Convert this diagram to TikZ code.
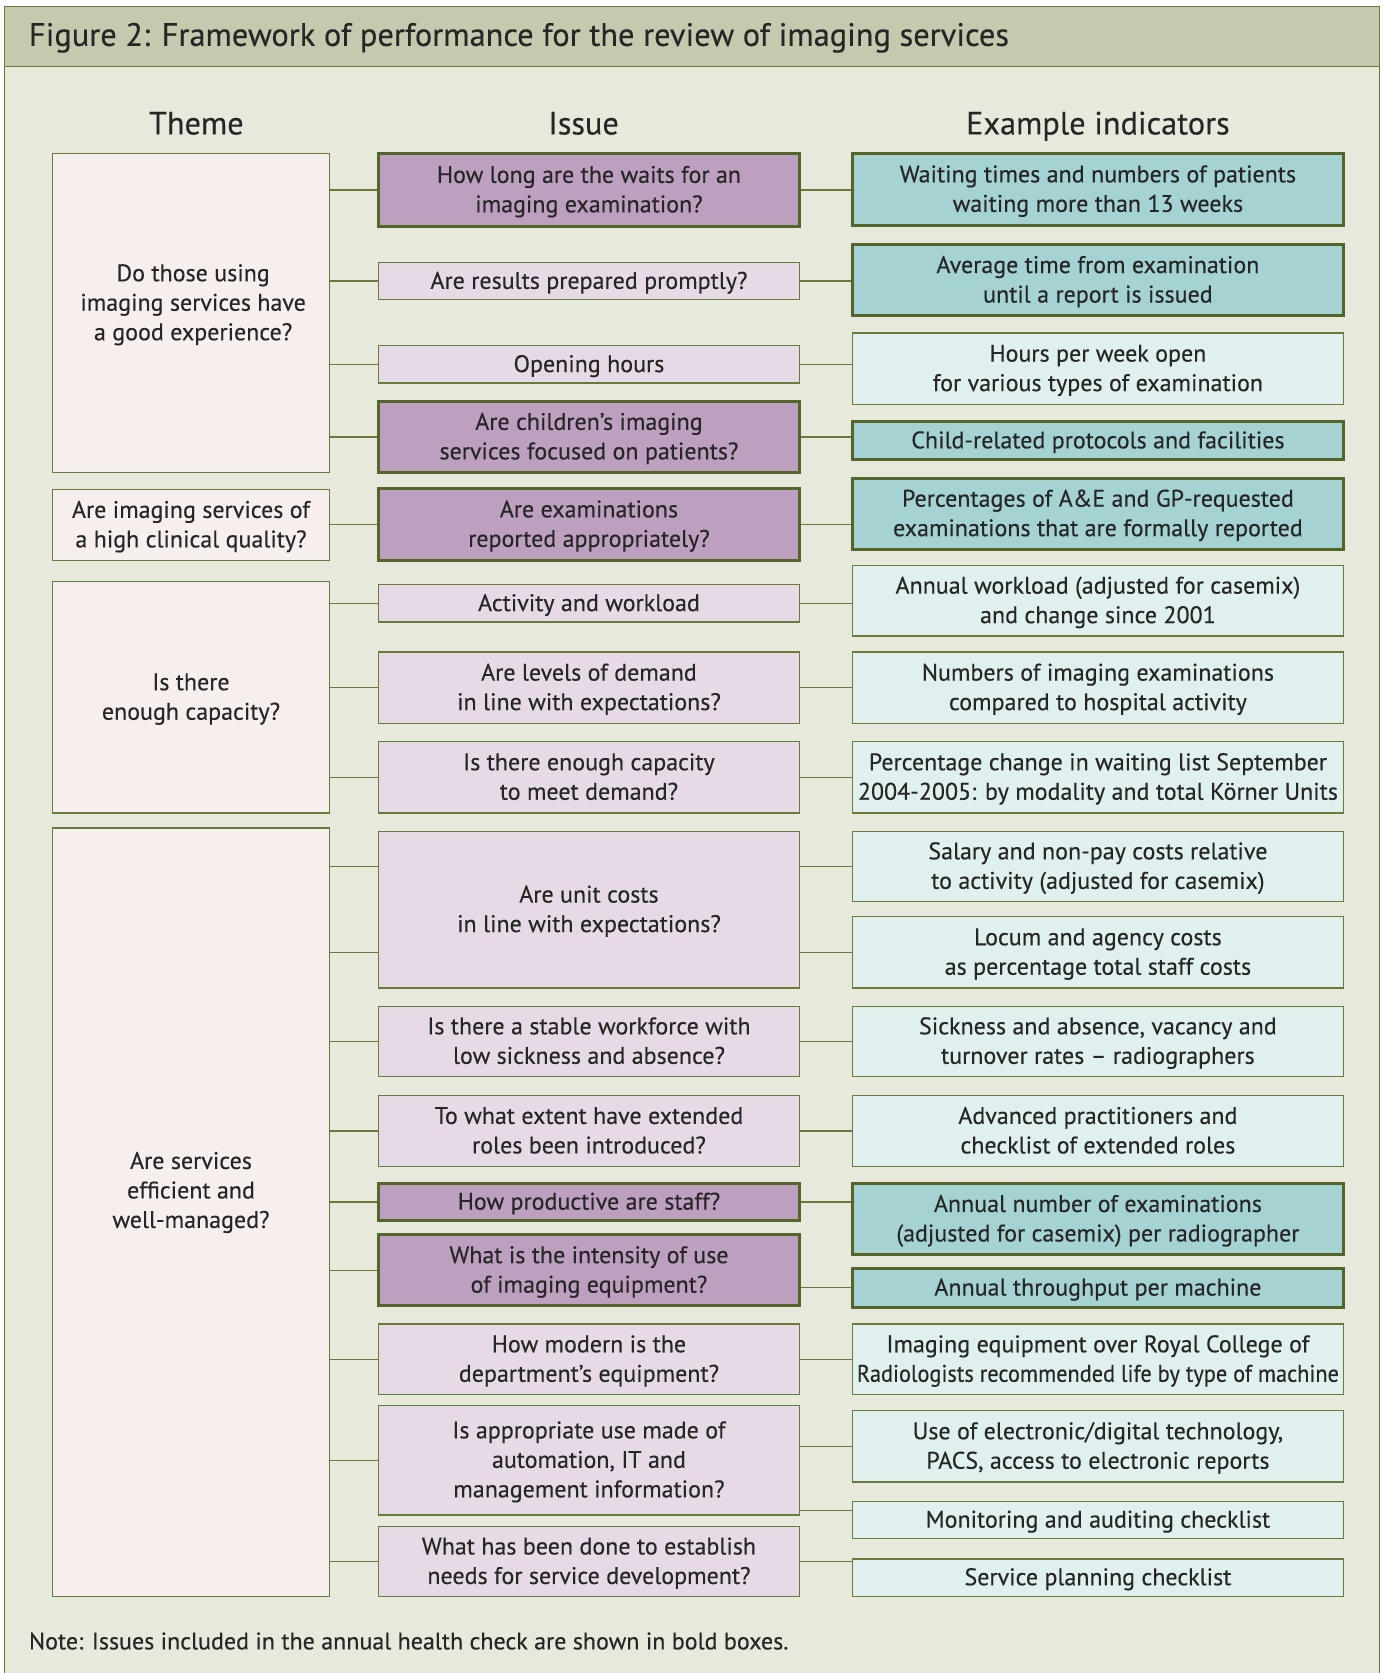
\documentclass[tikz,border=0pt]{standalone}
\usepackage{fontspec}
\usepackage{graphicx}
\setmainfont{PT Sans}[FakeBold=0.3]
\definecolor{panel}{HTML}{E8E9DD}
\definecolor{band}{HTML}{C5C9AE}
\definecolor{olive}{HTML}{6B7A3A}
\definecolor{darkolive}{HTML}{55652A}
\definecolor{mauve}{HTML}{BDA0C0}
\definecolor{lmauve}{HTML}{E6DAE6}
\definecolor{pinkw}{HTML}{F7EEEE}
\definecolor{teal}{HTML}{A5D2D3}
\definecolor{lteal}{HTML}{DFF0EF}
\definecolor{txt}{HTML}{262626}
\tikzset{
  every node/.style={text=txt, font=\fontsize{24}{29.5}\selectfont, inner sep=0pt},
  basebox/.style={draw=olive, line width=1.3pt, align=center},
  theme/.style={basebox, fill=pinkw},
  ilight/.style={basebox, fill=lmauve},
  ibold/.style={basebox, fill=mauve, draw=darkolive, line width=3pt},
  elight/.style={basebox, fill=lteal},
  ebold/.style={basebox, fill=teal, draw=darkolive, line width=3pt},
  conn/.style={draw=olive, line width=1.3pt},
  header/.style={font=\fontsize{32.3}{38}\selectfont, anchor=base},
  ttext/.style={align=center},
}
\newcommand\tu{\rule{0pt}{21.4pt}}
\newcommand\td{\rule[-6pt]{0pt}{6pt}}
\newcommand\bx[7]{\node[#1,minimum width={(#4-#2)*1.0671pt},minimum height={(#5-#3)*1.0671pt}] (#6) at ({(#2+#4)/2},{(#3+#5)/2}) {\tu #7\td};}
\begin{document}
\begin{tikzpicture}[x=1.0671pt,y=-1.0671pt]
\useasboundingbox (0,0) rectangle (1296,1568);
\fill[white] (0,0) rectangle (1296,1568);
\draw[draw=olive, line width=1.3pt, fill=panel] (4,6) rectangle (1293,1572);
\draw[draw=olive, line width=1.3pt, fill=band] (4,6) rectangle (1293,62);
\node[anchor=base west, font=\fontsize{32.4}{38}\selectfont] (title) at (27,43) {Figure 2: Framework of performance for the review of imaging services};
\node[header] (h1) at (184,126) {Theme};
\node[header] (h2) at (547,126) {Issue};
\node[header] (h3) at (1029,126) {Example indicators};
% themes
\bx{theme}{49}{144}{309}{443}{t1}{}
\node[ttext] (t1txt) at (181,284) {\tu Do those using\\imaging services have\\a good experience?\td};
\bx{theme}{49}{459}{309}{525}{t2}{Are imaging services of\\a high clinical quality?}
\bx{theme}{49}{545}{309}{762}{t3}{Is there\\enough capacity?}
\bx{theme}{49}{776}{309}{1496}{t4}{}
\node[ttext] (t4txt) at (179,1116) {\tu Are services\\efficient and\\well-managed?\td};
% issues
\bx{ibold}{355}{144}{749}{212}{i1}{How long are the waits for an\\imaging examination?}
\bx{ilight}{355}{246}{749}{281}{i2}{Are results prepared promptly?}
\bx{ilight}{355}{324}{749}{359}{i3}{Opening hours}
\bx{ibold}{355}{376}{749}{443}{i4}{Are children's imaging\\services focused on patients?}
\bx{ibold}{355}{458}{749}{525}{i5}{Are examinations\\reported appropriately?}
\bx{ilight}{355}{548}{749}{583}{i6}{Activity and workload}
\bx{ilight}{355}{611}{749}{678}{i7}{Are levels of demand\\in line with expectations?}
\bx{ilight}{355}{695}{749}{762}{i8}{Is there enough capacity\\to meet demand?}
\bx{ilight}{355}{779}{749}{926}{i9}{Are unit costs\\in line with expectations?}
\bx{ilight}{355}{943}{749}{1009}{i10}{Is there a stable workforce with\\low sickness and absence?}
\bx{ilight}{355}{1027}{749}{1093}{i11}{To what extent have extended\\roles been introduced?}
\bx{ibold}{355}{1109}{749}{1144}{i12}{How productive are staff?}
\bx{ibold}{355}{1157}{749}{1224}{i13}{What is the intensity of use\\of imaging equipment?}
\bx{ilight}{355}{1241}{749}{1307}{i14}{How modern is the\\department's equipment?}
\bx{ilight}{355}{1317}{749}{1420}{i15}{Is appropriate use made of\\automation, IT and\\management information?}
\bx{ilight}{355}{1431}{749}{1496}{i16}{What has been done to establish\\needs for service development?}
% indicators
\bx{ebold}{799}{144}{1259}{211}{e1}{Waiting times and numbers of patients\\waiting more than 13 weeks}
\bx{ebold}{799}{229}{1259}{296}{e2}{Average time from examination\\until a report is issued}
\bx{elight}{799}{312}{1259}{379}{e3}{Hours per week open\\for various types of examination}
\bx{ebold}{799}{395}{1259}{431}{e4}{Child-related protocols and facilities}
\bx{ebold}{799}{448}{1259}{515}{e5}{Percentages of A\&E and GP-requested\\examinations that are formally reported}
\bx{elight}{799}{530}{1259}{596}{e6}{Annual workload (adjusted for casemix)\\and change since 2001}
\bx{elight}{799}{611}{1259}{678}{e7}{Numbers of imaging examinations\\compared to hospital activity}
\bx{elight}{799}{695}{1259}{762}{e8}{Percentage change in waiting list September\\2004-2005: by modality and total Körner Units}
\bx{elight}{799}{779}{1259}{845}{e9}{Salary and non-pay costs relative\\to activity (adjusted for casemix)}
\bx{elight}{799}{859}{1259}{926}{e10}{Locum and agency costs\\as percentage total staff costs}
\bx{elight}{799}{943}{1259}{1009}{e11}{Sickness and absence, vacancy and\\turnover rates – radiographers}
\bx{elight}{799}{1027}{1259}{1093}{e12}{Advanced practitioners and\\checklist of extended roles}
\bx{ebold}{799}{1109}{1259}{1176}{e13}{Annual number of examinations\\(adjusted for casemix) per radiographer}
\bx{ebold}{799}{1189}{1259}{1225}{e14}{Annual throughput per machine}
\bx{elight}{799}{1241}{1259}{1307}{e15}{Imaging equipment over Royal College of\\\scalebox{0.93}[1]{Radiologists recommended life by type of machine}}
\bx{elight}{799}{1322}{1259}{1389}{e16}{Use of electronic/digital technology,\\PACS, access to electronic reports}
\bx{elight}{799}{1407}{1259}{1442}{e17}{Monitoring and auditing checklist}
\bx{elight}{799}{1461}{1259}{1496}{e18}{Service planning checklist}
\node[anchor=west] (note) at (27,1538) {Note: Issues included in the annual health check are shown in bold boxes.};
\coordinate (c17) at (0,1416);
% theme -> issue connectors
\foreach \t/\i in {t1/i1,t1/i2,t1/i3,t1/i4,t2/i5,t3/i6,t3/i7,t3/i8,t4/i10,t4/i11,t4/i12,t4/i13,t4/i14,t4/i15,t4/i16}
  \draw[conn] (\t.east|-\i.west) -- (\i.west);
\draw[conn] (t4.east|-e9.west) -- (i9.west|-e9.west);
\draw[conn] (t4.east|-e10.west) -- (i9.west|-e10.west);
% issue -> indicator connectors
\foreach \i/\e in {i1/e1,i2/e2,i3/e3,i4/e4,i5/e5,i6/e6,i7/e7,i8/e8,i10/e11,i11/e12,i12/e13,i14/e15,i16/e18}
  \draw[conn] (\i.east) -- (\e.west|-\i.east);
\draw[conn] (i9.east|-e9.west) -- (e9.west);
\draw[conn] (i9.east|-e10.west) -- (e10.west);
\draw[conn] (i13.east|-e14.west) -- (e14.west);
\draw[conn] (i15.east|-e16.west) -- (e16.west);
\draw[conn] (i15.east|-c17) -- (e17.west|-c17);
\end{tikzpicture}
\end{document}
